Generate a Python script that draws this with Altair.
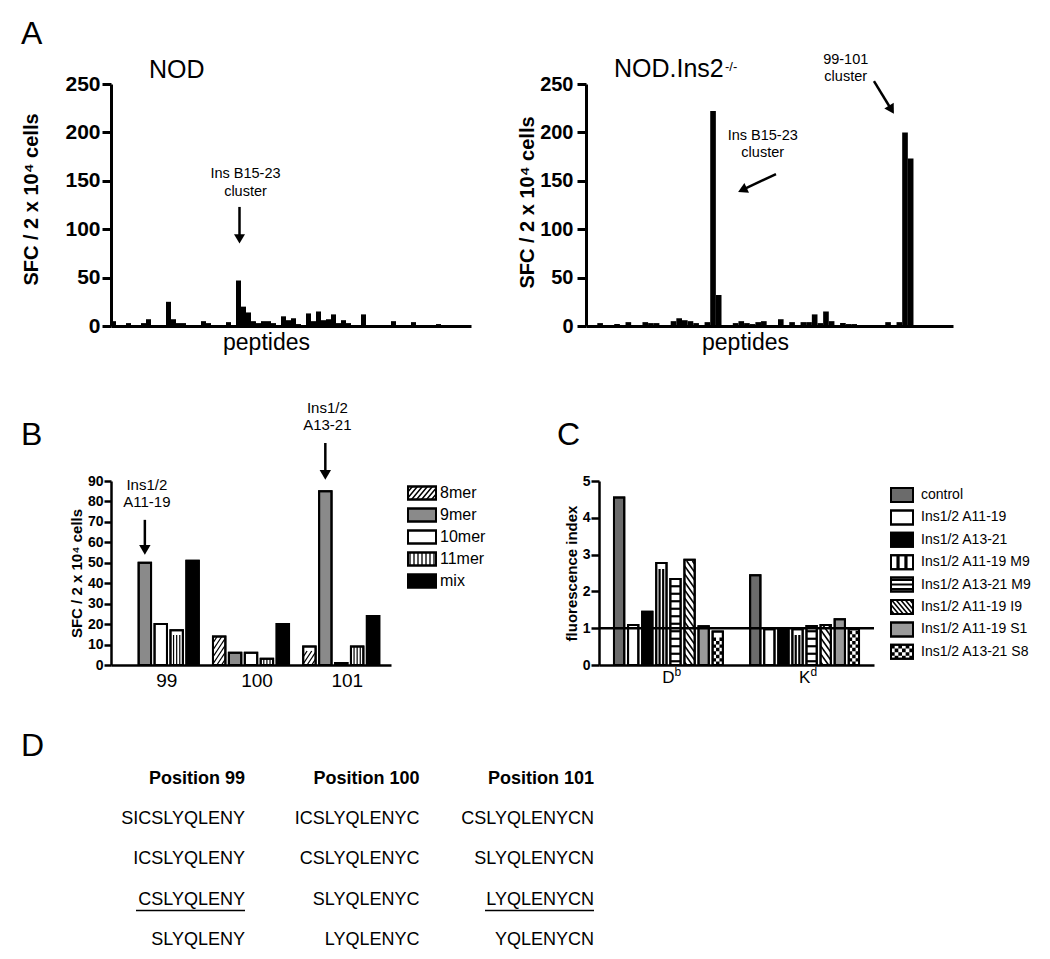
import math
import altair as alt
import pandas as pd

FONT = "Liberation Sans"

# ===================== data =====================
# Panel A: SFC per peptide (peptide index order as on the x axis)
nod_sfc = [5, 1, 1, 3, 1, 0, 3, 7, 0, 0, 0, 25, 7, 3, 3, 0, 0, 0, 5, 3,
           0, 0, 0, 4, 0, 47, 20, 14, 5, 3, 5, 5, 3, 0, 10, 6, 8, 2, 0, 13,
           5, 15, 6, 7, 12, 3, 6, 3, 0, 0, 12, 0, 0, 0, 0, 1, 5, 0, 0, 0,
           4, 0, 0, 0, 0, 2, 0, 0, 0, 0, 0, 0]
ins2_sfc = [0, 0, 3, 1, 0, 2, 0, 4, 0, 0, 4, 3, 3, 1, 0, 5, 8, 6, 5, 3,
            0, 4, 222, 32, 0, 0, 3, 5, 3, 2, 4, 5, 0, 0, 7, 0, 4, 0, 4, 4,
            12, 3, 15, 5, 0, 3, 2, 2, 1, 0, 0, 0, 0, 4, 0, 4, 200, 173, 0, 0,
            0, 0, 0, 0, 0]

# Panel B
b_positions = ["99", "100", "101"]
b_lengths = ["8mer", "9mer", "10mer", "11mer", "mix"]
b_8mer = [0, 14, 9]
b_9mer = [50, 6, 85]
b_10mer = [20, 6, 1]
b_11mer = [17, 3, 9]
b_mix = [51, 20, 24]

# Panel C
c_alleles = ["Db", "Kd"]
c_peptides = ["control", "Ins1/2 A11-19", "Ins1/2 A13-21", "Ins1/2 A11-19 M9",
              "Ins1/2 A13-21 M9", "Ins1/2 A11-19 I9", "Ins1/2 A11-19 S1",
              "Ins1/2 A13-21 S8"]
c_db = [4.55, 1.09, 1.45, 2.77, 2.34, 2.86, 1.05, 0.91]
c_kd = [2.44, 0.97, 1.00, 0.97, 1.06, 1.09, 1.24, 0.97]

# Panel D
d_headers = ["Position 99", "Position 100", "Position 101"]
d_pos99 = ["SICSLYQLENY", "ICSLYQLENY", "CSLYQLENY", "SLYQLENY"]
d_pos100 = ["ICSLYQLENYC", "CSLYQLENYC", "SLYQLENYC", "LYQLENYC"]
d_pos101 = ["CSLYQLENYCN", "SLYQLENYCN", "LYQLENYCN", "YQLENYCN"]
d_underlined = ["CSLYQLENY", "LYQLENYCN"]

# ===================== layout / style =====================
A1_W, A2_W, A_H = 360, 367, 242
B_W, LB_W, C_W, LC_W, BC_H = 280, 174, 275, 145, 184
D_W, D_H = 500, 182

B_PI, B_PO, B_SPI = 0.157, 0.13, 0.22
C_PI, C_PO, C_SPI = 0.20, 0.11, 0.27

b_fill = ["white", "#8a8a8a", "white", "white", "black"]
c_fill = ["#6b6b6b", "white", "black", "white", "white", "white", "#9a9a9a", "white"]


def band_width(W, n, pi, po):
    step = W / (n - pi + 2 * po)
    return step * (1 - pi)


def sub_bar_width(band, m, spi):
    sub = band / (m - spi)
    return sub * (1 - spi)


BAND_B = band_width(B_W, 3, B_PI, B_PO)
BAND_C = band_width(C_W, 2, C_PI, C_PO)
WB = sub_bar_width(BAND_B, 5, B_SPI)
WC = sub_bar_width(BAND_C, 8, C_SPI)


def fmt(v):
    return f"{v:.3f}"


def pattern_path(kind, w, h, period, slope=1.5, xs=None, ncol=3):
    """SVG path in symbol units (1 unit = w/2 px), block w x h px."""
    u = w / 2.0
    H = h / 2.0 / u
    P = period / u
    parts = []
    if kind in ("fwd", "back"):
        t = slope
        sgn = 1 if kind == "fwd" else -1
        kmin = math.floor((-H - t) / P) - 1
        kmax = math.ceil((H + t) / P) + 1
        for k in range(kmin, kmax + 1):
            c = k * P
            lo = max(-1.0, (c - H) / t)
            hi = min(1.0, (c + H) / t)
            if hi - lo < 1e-4:
                continue
            ya, yb = -t * lo + c, -t * hi + c
            parts.append(f"M{fmt(sgn * lo)},{fmt(ya)}L{fmt(sgn * hi)},{fmt(yb)}")
    elif kind == "vert":
        for x in xs:
            parts.append(f"M{fmt(x)},{fmt(-H)}L{fmt(x)},{fmt(H)}")
    elif kind == "horiz":
        y = -H + P / 2
        while y < H - 1e-6:
            parts.append(f"M-1,{fmt(y)}L1,{fmt(y)}")
            y += P
    elif kind == "check":
        s = 2.0 / ncol
        r = 0
        y0 = -H
        while y0 < H - 1e-6:
            y1 = min(y0 + s, H)
            for c in range(ncol):
                if (r + c) % 2 == 0:
                    x0 = -1 + c * s
                    parts.append(f"M{fmt(x0)},{fmt(y0)}L{fmt(x0 + s)},{fmt(y0)}"
                                 f"L{fmt(x0 + s)},{fmt(y1)}L{fmt(x0)},{fmt(y1)}Z")
            y0 += s
            r += 1
    return "".join(parts)


def rect_path(w, h):
    H = h / w
    return f"M-1,{fmt(-H)}L1,{fmt(-H)}L1,{fmt(H)}L-1,{fmt(H)}Z"


def letter(ch, x, y):
    return alt.Chart(pd.DataFrame({"t": [ch]})).mark_text(
        font=FONT, fontSize=32, align="left", baseline="top", color="black"
    ).encode(text="t:N", x=alt.value(x), y=alt.value(y))


NOFILL = alt.Fill("fc:N", scale=None, legend=None)

# ===================== Panel A =====================
def sfc_panel(vals, width, ytx, yty, lab_size, lab_pad, xtx, texts, arrows, heads, extras):
    n = len(vals)
    df = pd.DataFrame({"peptide": list(range(n)), "sfc": vals})
    xs = alt.Scale(domain=[-0.5, n - 0.5], nice=False, zero=False)
    ys = alt.Scale(domain=[0, 250], nice=False)
    xaxis = alt.Axis(title="peptides", titleFont=FONT, titleFontSize=23,
                     titleFontWeight="normal", titleColor="black", titleX=xtx,
                     titleY=5, titleAlign="center", titleBaseline="top",
                     labels=False, ticks=False, domainColor="black",
                     domainWidth=3, grid=False)
    yaxis = alt.Axis(values=[0, 50, 100, 150, 200, 250],
                     title="SFC / 2 x 10⁴ cells", titleFont=FONT, titleFontSize=20,
                     titleFontWeight="bold", titleColor="black", titleX=ytx,
                     titleY=yty, labelFont=FONT, labelFontSize=lab_size,
                     labelFontWeight="bold", labelColor="black",
                     labelPadding=lab_pad, tickSize=9, tickWidth=3,
                     tickColor="black", domainColor="black", domainWidth=3,
                     grid=False)
    X = alt.X("x0:Q", scale=xs, axis=xaxis)
    Y = alt.Y("sfc:Q", scale=ys, axis=yaxis)
    bars = alt.Chart(df).transform_filter("datum.sfc > 0").transform_calculate(
        x0="datum.peptide - 0.5", x1="datum.peptide + 0.5", base="0"
    ).mark_rect(color="black").encode(x=X, x2="x1:Q", y=Y, y2="base:Q")
    txt = alt.Chart(pd.DataFrame(texts)).mark_text(
        font=FONT, fontSize=14.5, color="black", align="center", baseline="middle"
    ).encode(x=X, y=Y, text="label:N")
    rules = alt.Chart(pd.DataFrame(arrows)).mark_rule(
        color="black", strokeWidth=2.5
    ).encode(x=X, y=Y, x2="x1:Q", y2="sfc2:Q")
    hd = alt.Chart(pd.DataFrame(heads)).mark_point(
        shape="triangle-up", size=120, filled=True, color="black", opacity=1
    ).encode(x=X, y=Y, angle=alt.Angle("ang:Q", scale=None))
    return alt.layer(bars, txt, rules, hd, *extras).properties(width=width, height=A_H)


def title_text(t, x, y, size):
    return alt.Chart(pd.DataFrame({"t": [t]})).mark_text(
        font=FONT, fontSize=size, align="left", baseline="alphabetic", color="black"
    ).encode(text="t:N", x=alt.value(x), y=alt.value(y))


panel_a1 = sfc_panel(
    nod_sfc, A1_W, -70, 115, 21, 2, 155,
    {"x0": [26.4, 26.4], "sfc": [157, 138], "label": ["Ins B15-23", "cluster"]},
    {"x0": [25.2], "x1": [25.2], "sfc": [123], "sfc2": [90]},
    {"x0": [25.2], "sfc": [90], "ang": [180]},
    [title_text("NOD", 38, -6, 25), letter("A", -90, -65)],
)

panel_a2 = sfc_panel(
    ins2_sfc, A2_W, -49, 118, 20, 4, 159,
    {"x0": [30.8, 30.8, 45.5, 45.5], "sfc": [196, 179, 275, 257],
     "label": ["Ins B15-23", "cluster", "99-101", "cluster"]},
    {"x0": [33.15, 50.5], "x1": [27.2, 53.6], "sfc": [157, 253], "sfc2": [140.6, 223.4]},
    {"x0": [27.2, 53.6], "sfc": [140.6, 223.4], "ang": [245, 149]},
    [title_text("NOD.Ins2", 28, -7, 25), title_text("-/-", 139, -13, 13)],
)

# ===================== Panel B =====================
b_rows = []
for name, fc, vals in zip(b_lengths, b_fill, [b_8mer, b_9mer, b_10mer, b_11mer, b_mix]):
    for g, v in zip(b_positions, vals):
        b_rows.append({"group": g, "series": name, "value": v, "fc": fc})
dfB = pd.DataFrame(b_rows)
B_PPU = BC_H / 90.0

YB_SCALE = alt.Scale(domain=[0, 90], nice=False)
YB_AXIS = alt.Axis(values=list(range(0, 100, 10)), title="SFC / 2 x 10⁴ cells",
                   titleFont=FONT, titleFontSize=15, titleFontWeight="bold",
                   titleColor="black", titleX=-27, labelFont=FONT, labelFontSize=14,
                   labelFontWeight="bold", labelColor="black", labelPadding=1,
                   tickSize=7, tickWidth=2.5, tickColor="black",
                   domainColor="black", domainWidth=2.5, grid=False)
XB = alt.X("group:N", scale=alt.Scale(type="band", domain=b_positions, paddingInner=B_PI,
                                      paddingOuter=B_PO),
           axis=alt.Axis(title=None, labelAngle=0, ticks=False, labelFont=FONT,
                         labelFontSize=19, labelColor="black", labelPadding=6,
                         labelOffset=6, domainColor="black", domainWidth=2.5, grid=False))
XOB = alt.XOffset("series:N", scale=alt.Scale(type="band", domain=b_lengths, range=[0, BAND_B],
                                              paddingInner=B_SPI, paddingOuter=0))
YB = alt.Y("value:Q", scale=YB_SCALE, axis=YB_AXIS)

b_fill_layer = alt.Chart(dfB).transform_filter("datum.value > 0").mark_bar(
    stroke="black", strokeWidth=2
).encode(x=XB, xOffset=XOB, y=YB, fill=NOFILL)


def hatch(df, field, series, w, ppu, kind, period, sw, XX, XO, ysc, yax, filled=False, **kw):
    p = period / ppu
    path = pattern_path(kind, w, period, period, **kw)
    props = dict(shape=path, size=w * w, opacity=1, filled=filled)
    if filled:
        props.update(fill="black", strokeWidth=0)
    else:
        props.update(color="black", strokeWidth=sw)
    return alt.Chart(df).transform_filter(
        f"datum.{field} == '{series}'"
    ).transform_calculate(
        yc=f"sequence({p / 2:.4f}, datum.value - {p / 2:.4f} + 0.0001, {p:.4f})"
    ).transform_flatten(["yc"]).mark_point(**props).encode(
        x=XX, xOffset=XO, y=alt.Y("yc:Q", scale=ysc, axis=yax)
    )


b_h8 = hatch(dfB, "series", "8mer", WB, B_PPU, "fwd", 7, 1.3, XB, XOB, YB_SCALE, YB_AXIS, slope=1.5)
b_h11 = hatch(dfB, "series", "11mer", WB, B_PPU, "vert", 6, 1.2, XB, XOB, YB_SCALE, YB_AXIS,
              xs=[-0.5, 0, 0.5])
b_outline = alt.Chart(dfB).transform_filter("datum.value > 0").mark_bar(
    fillOpacity=0, stroke="black", strokeWidth=2
).encode(x=XB, xOffset=XOB, y=YB)

annB = pd.DataFrame({"group": ["99", "99", "101", "101"], "series": ["9mer"] * 4,
                     "value": [88, 79.7, 125.7, 117.4],
                     "label": ["Ins1/2", "A11-19", "Ins1/2", "A13-21"]})
b_txt = alt.Chart(annB).mark_text(font=FONT, fontSize=15, color="black", align="center",
                                  baseline="middle", dx=2).encode(x=XB, xOffset=XOB, y=YB, text="label:N")
arrB = pd.DataFrame({"group": ["99", "101"], "series": ["9mer", "9mer"],
                     "value": [71, 108.6], "value2": [56.3, 93]})
b_rule = alt.Chart(arrB).mark_rule(color="black", strokeWidth=2.5).encode(
    x=XB, xOffset=XOB, y=YB, y2="value2:Q")
b_head = alt.Chart(arrB).mark_point(shape="triangle-down", size=130, filled=True,
                                    color="black", opacity=1).encode(
    x=XB, xOffset=XOB, y=alt.Y("value2:Q", scale=YB_SCALE, axis=YB_AXIS))

panel_b = alt.layer(b_fill_layer, b_h8, b_h11, b_outline, b_txt, b_rule, b_head,
                    letter("B", -90, -61)).properties(width=B_W, height=BC_H)


# ===================== legends =====================
def legend(items, fills, pats, width, row0, step, sw_w, sw_h, sw_x, lab_x, fs):
    df = pd.DataFrame({"series": items, "row": list(range(len(items))), "fc": fills})
    a = -row0 / step
    Y = alt.Y("row:Q", scale=alt.Scale(domain=[a, a + BC_H / step], reverse=True,
                                        nice=False, zero=False), axis=None)
    layers = [alt.Chart(df).mark_point(
        shape=rect_path(sw_w, sw_h), size=sw_w * sw_w, filled=True, stroke="black",
        strokeWidth=2, opacity=1
    ).encode(x=alt.value(sw_x), y=Y, fill=NOFILL)]
    for name, (kind, period, sw, kw) in pats.items():
        filled = kind == "check"
        props = dict(shape=pattern_path(kind, sw_w, sw_h, period, **kw),
                     size=sw_w * sw_w, opacity=1, filled=filled)
        if filled:
            props.update(fill="black", strokeWidth=0)
        else:
            props.update(color="black", strokeWidth=sw)
        layers.append(alt.Chart(df).transform_filter(f"datum.series == '{name}'")
                      .mark_point(**props).encode(x=alt.value(sw_x), y=Y))
    layers.append(alt.Chart(df).mark_point(
        shape=rect_path(sw_w, sw_h), size=sw_w * sw_w, filled=False, color="black",
        strokeWidth=2, opacity=1).encode(x=alt.value(sw_x), y=Y))
    layers.append(alt.Chart(df).mark_text(font=FONT, fontSize=fs, align="left",
                                          baseline="middle", color="black")
                  .encode(x=alt.value(lab_x), y=Y, text="series:N"))
    return alt.layer(*layers).properties(width=width, height=BC_H)


legend_b = legend(
    b_lengths, b_fill,
    {"8mer": ("fwd", 6, 1.5, {"slope": 1.2}),
     "11mer": ("vert", 4, 1.3, {"xs": [-0.857, -0.571, -0.286, 0, 0.286, 0.571, 0.857]})},
    LB_W, 12, 22, 28, 13, 14, 32, 16)

legend_c = legend(
    c_peptides, c_fill,
    {"Ins1/2 A11-19 M9": ("vert", 4, 3.2, {"xs": [-0.36, 0.36]}),
     "Ins1/2 A13-21 M9": ("horiz", 4.6, 2.2, {}),
     "Ins1/2 A11-19 I9": ("back", 5.5, 1.6, {"slope": 1.2}),
     "Ins1/2 A13-21 S8": ("check", 7.3, 0, {"ncol": 6})},
    LC_W, 14, 22.4, 22, 14, 11, 30, 14)

# ===================== Panel C =====================
c_rows = []
for g, vals in zip(c_alleles, [c_db, c_kd]):
    for p, fc, v in zip(c_peptides, c_fill, vals):
        c_rows.append({"allele": g, "peptide": p, "value": v, "fc": fc})
dfC = pd.DataFrame(c_rows)
C_PPU = BC_H / 5.0

YC_SCALE = alt.Scale(domain=[0, 5], nice=False)
YC_AXIS = alt.Axis(values=[0, 1, 2, 3, 4, 5], format="d", title="fluorescence index",
                   titleFont=FONT, titleFontSize=15, titleFontWeight="bold",
                   titleColor="black", titleX=-20, labelFont=FONT, labelFontSize=14,
                   labelFontWeight="bold", labelColor="black", labelPadding=1,
                   tickSize=8, tickWidth=2.5, tickColor="black",
                   domainColor="black", domainWidth=2.5, grid=False)
XC = alt.X("allele:N", scale=alt.Scale(type="band", domain=c_alleles, paddingInner=C_PI,
                                       paddingOuter=C_PO),
           axis=alt.Axis(title=None, labelExpr="slice(datum.label, 0, 1)", labelAngle=0,
                         ticks=False, labelFont=FONT, labelFontSize=17, labelColor="black",
                         labelPadding=4, domainColor="black", domainWidth=2.5, grid=False))
XOC = alt.XOffset("peptide:N", scale=alt.Scale(type="band", domain=c_peptides, range=[0, BAND_C],
                                               paddingInner=C_SPI, paddingOuter=0))
YC = alt.Y("value:Q", scale=YC_SCALE, axis=YC_AXIS)

c_fill_layer = alt.Chart(dfC).mark_bar(stroke="black", strokeWidth=2).encode(
    x=XC, xOffset=XOC, y=YC, fill=NOFILL)
c_hv = hatch(dfC, "peptide", "Ins1/2 A11-19 M9", WC, C_PPU, "vert", 6, 2.2, XC, XOC,
             YC_SCALE, YC_AXIS, xs=[-0.35, 0.35])
c_hh = hatch(dfC, "peptide", "Ins1/2 A13-21 M9", WC, C_PPU, "horiz", 7.5, 2.2, XC, XOC,
             YC_SCALE, YC_AXIS)
c_hb = hatch(dfC, "peptide", "Ins1/2 A11-19 I9", WC, C_PPU, "back", 8, 1.6, XC, XOC,
             YC_SCALE, YC_AXIS, slope=1.4)
c_hc = hatch(dfC, "peptide", "Ins1/2 A13-21 S8", WC, C_PPU, "check", 2 * WC / 3, 0, XC, XOC,
             YC_SCALE, YC_AXIS, filled=True, ncol=3)
c_outline = alt.Chart(dfC).mark_bar(fillOpacity=0, stroke="black", strokeWidth=2).encode(
    x=XC, xOffset=XOC, y=YC)
c_ref = alt.Chart(pd.DataFrame({"value": [1]})).mark_rule(color="black", strokeWidth=2.5).encode(
    y=YC)
c_sup = alt.Chart(pd.DataFrame({"allele": c_alleles, "sup": ["b", "d"]})).mark_text(
    font=FONT, fontSize=12, align="left", baseline="top", color="black", dx=6
).encode(x=XC, y=alt.value(BC_H + 2), text="sup:N")

panel_c = alt.layer(c_fill_layer, c_hv, c_hh, c_hb, c_hc, c_outline, c_ref, c_sup,
                    letter("C", -42, -61)).properties(width=C_W, height=BC_H)

# ===================== Panel D =====================
D_STEP_X, D_X0 = 174.5, 134
D_STEP_Y, D_Y0 = 40.2, 17
xd = alt.Scale(domain=[-D_X0 / D_STEP_X, (D_W - D_X0) / D_STEP_X], nice=False, zero=False)
yd = alt.Scale(domain=[-D_Y0 / D_STEP_Y, (D_H - D_Y0) / D_STEP_Y], reverse=True, nice=False, zero=False)
XD = alt.X("col:Q", scale=xd, axis=None)
YD = alt.Y("row:Q", scale=yd, axis=None)

d_head = pd.DataFrame({"col": [0, 1, 2], "row": [0, 0, 0], "label": d_headers})
seq_rows = []
for ci, seqs in enumerate([d_pos99, d_pos100, d_pos101]):
    for ri, s in enumerate(seqs):
        seq_rows.append({"col": ci, "row": ri + 1, "label": s})
d_seq = pd.DataFrame(seq_rows)
d_und = d_seq[d_seq["label"].isin(d_underlined)]

d_l1 = alt.Chart(d_head).mark_text(font=FONT, fontSize=18, fontWeight="bold", align="right",
                                   baseline="middle", color="black").encode(x=XD, y=YD, text="label:N")
d_l2 = alt.Chart(d_seq).mark_text(font=FONT, fontSize=18, align="right",
                                  baseline="middle", color="black").encode(x=XD, y=YD, text="label:N")
d_l3 = alt.Chart(d_und).mark_rule(color="black", strokeWidth=1.5, xOffset=-109, yOffset=11).encode(
    x=XD, x2="col:Q", y=YD)
panel_d = alt.layer(d_l1, d_l2, d_l3, letter("D", -90, -31)).properties(width=D_W, height=D_H)

# ===================== assemble =====================
row_a = alt.hconcat(panel_a1, panel_a2, spacing=115, bounds="flush")
row_bc = alt.hconcat(panel_b, legend_b, panel_c, legend_c, spacing=17, bounds="flush"
                     ).resolve_scale(xOffset="independent")
lower = alt.vconcat(row_bc, panel_d, spacing=40).resolve_scale(xOffset="independent")
chart = alt.vconcat(row_a, lower, spacing=47).resolve_scale(xOffset="independent").properties(
    padding={"left": 12, "top": 10, "right": 2, "bottom": 2}
).configure(font=FONT).configure_view(strokeWidth=0)

chart.save("out.html", embed_options={"renderer": "svg", "actions": False})
